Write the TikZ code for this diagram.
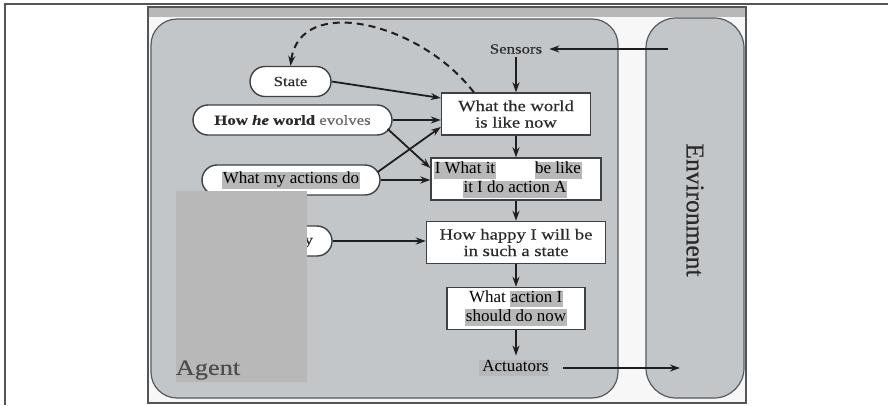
\documentclass[tikz,border=0pt]{standalone}
\usepackage{fontspec}
\setmainfont{Liberation Serif}
\newfontfamily\blurfont[FakeStretch=1.2,FakeBold=0.4]{Liberation Serif}
\newfontfamily\envfont[FakeBold=0.5]{Liberation Serif}
\usetikzlibrary{arrows.meta}
\definecolor{agentgray}{HTML}{C3C6C9}
\definecolor{patchgray}{HTML}{B8B8B8}
\definecolor{edgecol}{HTML}{1E1E1E}
\definecolor{framecol}{HTML}{555555}
\definecolor{blurtext}{HTML}{2A2A2A}
\newcommand{\hlp}[1]{{\setlength{\fboxsep}{0.6pt}\colorbox{patchgray}{\rule[-4pt]{0pt}{14pt}#1}}}
\tikzset{
  arr/.style={draw=edgecol, line width=1.8pt, -{Stealth[length=10pt,width=7pt]}},
  dasharr/.style={draw=edgecol, line width=2pt, dash pattern=on 7pt off 5pt, -{Stealth[length=10pt,width=7pt]}},
  boxnode/.style={draw=edgecol!85, line width=1.4pt, fill=white, inner sep=0pt, minimum height=42pt},
  ovalnode/.style={draw=edgecol!85, line width=1.4pt, fill=white, inner sep=0pt, rounded corners=15pt, minimum height=30pt},
  blurbox/.style={font=\blurfont\fontsize{15.5}{16.5}\selectfont, text=blurtext, align=center},
  blursmall/.style={font=\blurfont\fontsize{14}{16}\selectfont, text=blurtext},
  crisp/.style={font=\fontsize{17}{18.5}\selectfont, text=black, inner sep=0pt},
  lbl/.style={inner sep=2pt}
}
\begin{document}
\begin{tikzpicture}[x=1pt,y=-1pt]
\useasboundingbox (0,0) rectangle (888,405);
\fill[white] (0,0) rectangle (888,405);
% outer frame
\draw[framecol, line width=1.5pt] (5,405) -- (5,4) -- (888,4);
% figure area
\fill[white!97!black] (148,7) rectangle (746,403);
\fill[patchgray] (148,7) rectangle (746,17);
\draw[fill=agentgray, draw=black!65, line width=1.2pt, rounded corners=26pt] (151,19) rectangle (618,398);
\draw[fill=agentgray, draw=black!65, line width=1.2pt, rounded corners=30pt] (646,18) rectangle (744,398);
\draw[framecol, line width=1.4pt] (148,7) rectangle (746,403);

% labels
\node[lbl, blursmall] (sensors) at (516,49) {Sensors};
\node[lbl, crisp, inner sep=2pt] (act) at (514,368) {\hlp{\,Actuators}};
\node[rotate=-90, font=\envfont\fontsize{25.5}{27}\selectfont, text=blurtext] (envlbl) at (695,210) {Environment};

% boxes
\node[boxnode, minimum width=149pt, blurbox] (b1) at (516,114) {What the world\\is like now};
\node[boxnode, minimum width=170pt] (b2) at (516,179) {};
\node[crisp] (b2a) at (465,170) {\hlp{I What it}};
\node[crisp] (b2b) at (558,170) {\hlp{be like}};
\node[crisp] (b2c) at (515,189) {\hlp{it I do action A}};
\node[boxnode, minimum width=179pt, blurbox] (b3) at (516,242.5) {How happy I will be\\in such a state};
\node[boxnode, minimum width=138pt, crisp, align=center] (b4) at (516,308.5) {What \hlp{action I}\\\hlp{should do now}};

% ovals
\node[ovalnode, minimum width=81pt, blursmall] (state) at (290.5,81.5) {State};
\node[ovalnode, minimum width=199pt, blursmall] (evolves) at (292.5,120) {\textbf{How} \textbf{\textit{he}} \textbf{world} {\color{black!60}evolves}};
\node[ovalnode, minimum width=178pt, crisp] (actions) at (291,180) {\hlp{What my actions do}};
\node[ovalnode, minimum width=82pt, blursmall] (utility) at (291,241) {Utility};

% environment anchor points
\coordinate (sensin) at (668,49);
\coordinate (actout) at (680,368);

% connectors
\draw[arr, shorten >=5pt] (sensin) -- (sensors.east);
\draw[arr, shorten <=1pt] (sensors.south) -- (sensors.south |- b1.north);
\draw[arr] (b1.south -| 516,0) -- (b2.north -| 516,0);
\draw[arr] (b2.south -| 516,0) -- (b3.north -| 516,0);
\draw[arr] (b3.south -| 516,0) -- (b4.north -| 516,0);
\draw[arr] (b4.south -| 516,0) -- ([yshift=2pt]act.north -| 516,0);
\draw[arr, shorten <=12pt] (act.east) -- (actout);

\draw[dasharr] ([xshift=33pt]b1.north west) .. controls (420,22) and (300,-6) .. (state.north);

\draw[arr] (state.east) -- ([yshift=16pt]b1.west);
\draw[arr] (evolves.east) -- (evolves.east -| b1.west);
\draw[arr] ([xshift=-5pt,yshift=-9pt]evolves.east) -- ([yshift=11pt]b2.west);
\draw[arr] ([xshift=-3pt,yshift=8pt]actions.east) -- ([yshift=-13pt]b1.west);
\draw[arr] (actions.east) -- (actions.east -| b2.west);
\draw[arr] (utility.east) -- (utility.east -| b3.west);

% redaction patch
\fill[patchgray] (176,191) rectangle (307,382);
\node[font=\blurfont\fontsize{22}{24}\selectfont, text=black!70, inner sep=0pt] (agentlbl) at (208,370) {Agent};
\end{tikzpicture}
\end{document}
